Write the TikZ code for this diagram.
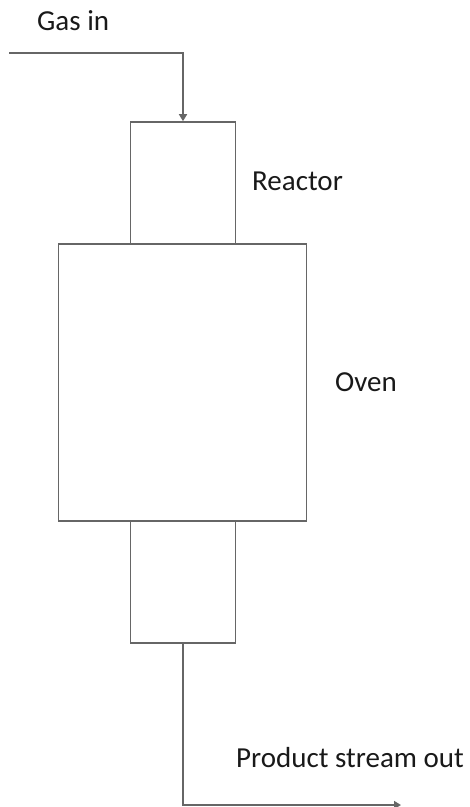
\documentclass[tikz,border=0pt]{standalone}
\usepackage{fontspec}
\setmainfont{Carlito}
\usetikzlibrary{arrows.meta, positioning}

\tikzset{
  vessel/.style={draw=black!60, line width=1.6pt, inner sep=0pt},
  pipe/.style={draw=black!60, line width=1.6pt},
  tag/.style={font=\fontsize{29}{32}\selectfont, text=black!90, anchor=base west, inner sep=0pt}
}

\begin{document}
\begin{tikzpicture}[>={Triangle[length=7pt, width=8pt]}, x=1pt, y=-1pt]
  \useasboundingbox (0,0) rectangle (470,807);

  % Reactor tube (runs through the oven)
  \node[vessel, minimum width=105pt, minimum height=521pt] (reactor) at (183,382.5) {};
  % Oven around the middle of the tube
  \node[vessel, fill=white, minimum width=248pt, minimum height=277pt] (oven) at (182.5,382.5) {};

  % Feed and product lines
  \coordinate (gasstart) at (9,52.7);
  \coordinate (prodend) at (401,805);
  \draw[pipe, ->] (gasstart) -| (reactor.north);
  \draw[pipe, ->] (reactor.south) |- (prodend);

  % Labels
  \node[tag] (gaslbl) at (37,30) {Gas in};
  \node[tag] (reactorlbl) at (252,190.5) {Reactor};
  \node[tag] (ovenlbl) at (335,391) {Oven};
  \node[tag] (prodlbl) at (236,767) {Product stream out};
\end{tikzpicture}
\end{document}
